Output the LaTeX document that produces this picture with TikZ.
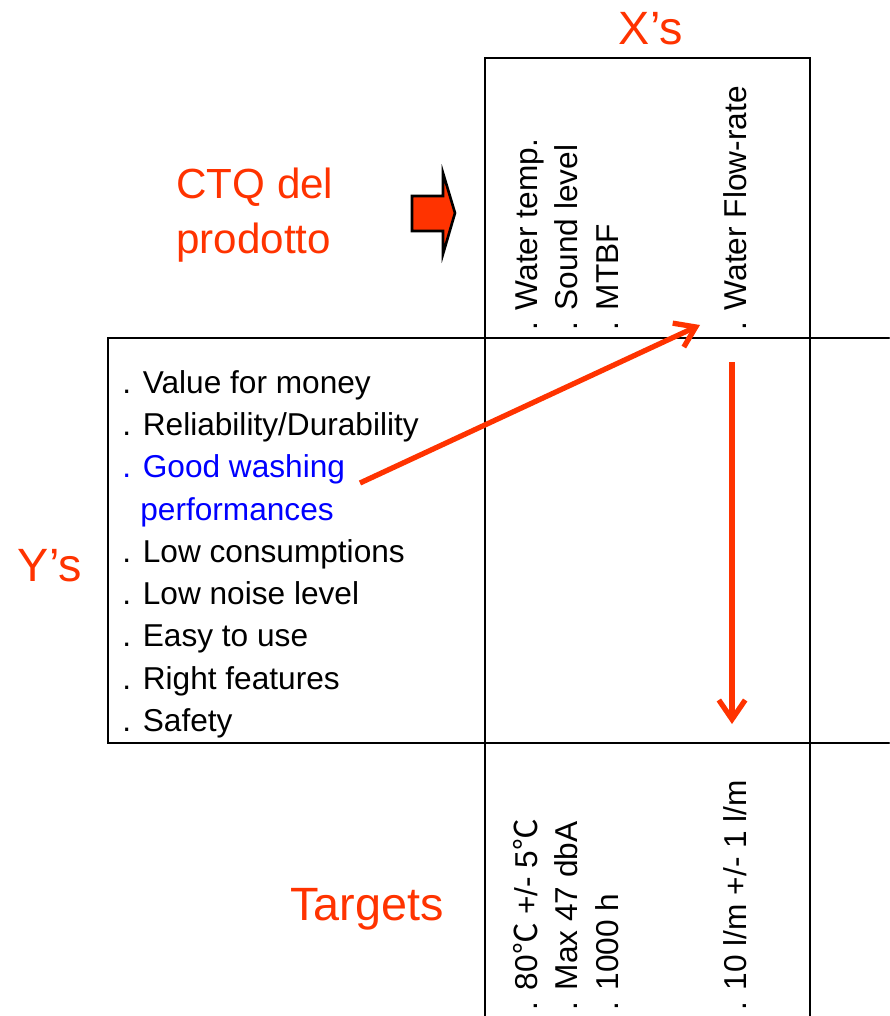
\documentclass[tikz,border=0pt]{standalone}
\usepackage{fontspec}
\setmainfont{Liberation Sans}
\newfontfamily\symfont{Noto Sans CJK SC}
\usepackage{tikz}
\usetikzlibrary{arrows.meta}

\begin{document}
\begin{tikzpicture}
		[x=0.02cm,y=-0.02cm,line cap=round,
		%Styles
		grid line/.style={line width=1.2pt},
		big label/.style={text=ctqred,inner sep=0,font=\fontsize{26.6}{30}\selectfont},
		y item/.style={anchor=base west,inner sep=0,font=\fontsize{18}{24}\selectfont},
		x item/.style={rotate=90,anchor=base west,inner sep=0,font=\fontsize{18}{24}\selectfont},
		flow arrow/.style={ctqred,line width=3pt,line cap=butt,-{Straight Barb[length=11pt,width=15pt,line width=3pt]}}
		]
		
		%Colors
		\definecolor{ctqred}{RGB}{255,51,0}
		
		\useasboundingbox (0,0) rectangle (889,1016);
		
		%The graphic
		\draw[grid line] (485,1016) -- (485,58) -- (810,58) -- (810,1016);
		\draw[grid line] (889,338) -- (108,338) -- (108,743) -- (889,743);
		
		%Labels
		\node[big label,anchor=base] (xs) at (651,45) {X’s};
		\node[big label,anchor=base] (ys) at (50,581) {Y’s};
		\node[big label,anchor=base] (targets) at (367,920) {Targets};
		\node[big label,anchor=base west,font=\fontsize{24}{28}\selectfont] (ctq) at (176,199) {CTQ del};
		\node[big label,anchor=base west,font=\fontsize{24}{28}\selectfont] (prod) at (176,254) {prodotto};
		
		\filldraw[fill=ctqred,draw=black,line width=1.5pt,line join=miter]
			(412,196) -- (443,196) -- (443,173) -- (455,213) -- (443,254) -- (443,231) -- (412,231) -- cycle;
		
		%Y's
		\node[y item] (y1) at (122,393) {. Value for money};
		\node[y item] (y2) at (122,435) {. Reliability/Durability};
		\node[y item,text=blue] (y3) at (122,477) {. Good washing};
		\node[y item,text=blue] (y3b) at (140,520) {performances};
		\node[y item] (y4) at (122,562) {. Low consumptions};
		\node[y item] (y5) at (122,604) {. Low noise level};
		\node[y item] (y6) at (122,646) {. Easy to use};
		\node[y item] (y7) at (122,689) {. Right features};
		\node[y item] (y8) at (122,731) {. Safety};
		
		%X's
		\node[x item] (x1) at (537,331) {. Water temp.};
		\node[x item] (x2) at (577,331) {. Sound level};
		\node[x item] (x3) at (618,331) {. MTBF};
		\node[x item] (x4) at (746,331) {. Water Flow-rate};
		
		%Targets
		\node[x item] (t1) at (537,1011) {. 80{\symfont ℃} +/- 5{\symfont ℃}};
		\node[x item] (t2) at (577,1011) {. Max 47 dbA};
		\node[x item] (t3) at (618,1011) {. 1000 h};
		\node[x item] (t4) at (746,1011) {. 10 l/m +/- 1 l/m};
		
		%Arrows
		\coordinate (from y) at (360,483);
		\coordinate (to x) at (700,325);
		\coordinate (from x) at (732,362);
		\coordinate (to t) at (732,724);
		\draw[flow arrow] (from y) -- (to x);
		\draw[flow arrow] (from x) -- (to t);
	\end{tikzpicture}
\end{document}
